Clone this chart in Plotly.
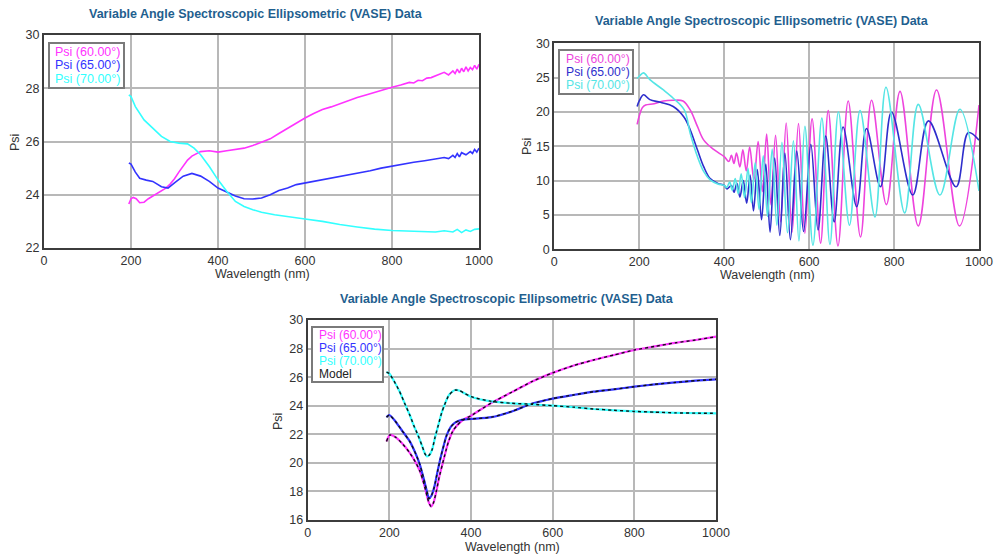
import plotly.graph_objects as go

W, H = 995, 556
FONT = "Liberation Sans, Arial, sans-serif"
TITLE = "Variable Angle Spectroscopic Ellipsometric (VASE) Data"

# ---- Panel A: thick-substrate sample, Psi vs wavelength ----
a_wl_60 = [195, 200, 205, 212, 220, 230, 240, 250, 260, 270, 280, 290, 300, 310, 320, 330, 340, 350,
           360, 380, 400, 420, 440, 460, 480, 500, 520, 540, 560, 580, 600, 620, 640, 660, 680, 700,
           720, 740, 760, 780, 800, 820, 840, 850, 860, 870, 880, 890, 900, 910, 920, 930, 940, 945,
           950, 955, 960, 965, 970, 975, 980, 985, 990, 995, 1000]
a_psi_60 = [23.65, 23.85, 23.9, 23.85, 23.7, 23.72, 23.85, 23.95, 24.05, 24.15, 24.25, 24.4, 24.6, 24.85,
            25.1, 25.3, 25.45, 25.55, 25.62, 25.65, 25.6, 25.65, 25.7, 25.75, 25.85, 25.97, 26.1, 26.3,
            26.5, 26.7, 26.88, 27.05, 27.2, 27.3, 27.42, 27.52, 27.65, 27.75, 27.85, 27.95, 28.04, 28.12,
            28.22, 28.2, 28.3, 28.28, 28.38, 28.4, 28.47, 28.52, 28.6, 28.5, 28.65, 28.55, 28.72, 28.58,
            28.75, 28.62, 28.8, 28.65, 28.78, 28.7, 28.86, 28.72, 28.9]
a_wl_65 = [195, 200, 210, 220, 235, 250, 270, 285, 300, 320, 340, 360, 380, 400, 420, 440, 460, 480,
           500, 520, 540, 560, 580, 600, 620, 640, 660, 680, 700, 725, 750, 775, 800, 825, 850, 875,
           900, 920, 930, 940, 945, 950, 955, 960, 970, 980, 985, 990, 995, 1000]
a_psi_65 = [25.19, 25.15, 24.85, 24.62, 24.55, 24.5, 24.3, 24.25, 24.45, 24.7, 24.8, 24.7, 24.5, 24.25,
            24.1, 23.95, 23.85, 23.84, 23.88, 24.0, 24.16, 24.25, 24.38, 24.44, 24.5, 24.56, 24.63, 24.68,
            24.75, 24.82, 24.9, 25.0, 25.08, 25.15, 25.22, 25.28, 25.34, 25.4, 25.36, 25.48, 25.4, 25.55,
            25.42, 25.58, 25.5, 25.62, 25.55, 25.7, 25.6, 25.75]
a_wl_70 = [195, 200, 210, 230, 250, 270, 290, 310, 330, 345, 360, 380, 400, 420, 440, 460, 480, 500,
           530, 560, 600, 640, 680, 720, 760, 800, 850, 900, 920, 940, 950, 960, 970, 980, 990, 1000]
a_psi_70 = [27.75, 27.69, 27.31, 26.81, 26.5, 26.19, 26.0, 25.94, 25.91, 25.75, 25.5, 25.06, 24.56,
            24.13, 23.75, 23.56, 23.44, 23.34, 23.25, 23.19, 23.09, 23.0, 22.88, 22.79, 22.71, 22.66,
            22.63, 22.6, 22.65, 22.6, 22.7, 22.58, 22.68, 22.62, 22.7, 22.72]

# ---- Panel B: thin-film sample with interference fringes ----
b_wl_60 = [195, 200, 207, 215, 235, 257, 280, 303, 320, 337, 352, 376, 400,
           411, 417, 423, 429, 437, 444, 452, 460, 470, 480, 490, 500, 510, 521, 533, 546,
           560, 575, 590, 607, 627, 645, 668, 692, 721, 747, 782, 814, 857, 900, 954, 1000]
b_psi_60 = [18.2, 19.4, 20.6, 21.0, 21.2, 21.6, 21.7, 21.6, 20.3, 17.9, 15.9, 14.5, 13.5,
            12.8, 13.7, 12.5, 14.0, 12.0, 14.5, 11.4, 14.9, 10.1, 15.7, 8.4, 16.8, 6.5, 16.6, 4.0, 18.4,
            2.5, 18.3, 2.3, 19.0, 0.9, 20.2, 0.5, 21.6, 1.8, 21.7, 6.5, 23.0, 3.4, 23.2, 3.4, 21.0]
b_wl_65 = [195, 200, 210, 225, 250, 280, 306, 320, 337, 352, 367, 385, 400,
           407, 417, 423, 430, 437, 445, 453, 461, 469, 478, 488, 498, 508, 519, 531, 543,
           556, 571, 587, 604, 621, 639, 659, 680, 712, 735, 768, 794, 844, 881, 946, 975, 1000]
b_psi_65 = [20.8, 21.6, 22.5, 21.8, 21.4, 20.8, 19.2, 17.4, 14.5, 12.0, 10.3, 9.6, 9.3,
            8.8, 9.3, 8.3, 9.6, 7.6, 10.0, 6.7, 10.8, 5.6, 11.6, 4.3, 12.4, 2.5, 13.3, 2.0, 14.0,
            1.4, 14.3, 2.6, 15.3, 2.8, 16.5, 4.0, 17.8, 6.2, 17.6, 9.1, 20.0, 7.9, 18.7, 9.1, 17.0, 15.9]
b_wl_70 = [195, 200, 210, 225, 257, 280, 306, 320, 337, 352, 367, 385, 400,
           406, 413, 419, 426, 433, 440, 448, 456, 464, 473, 482, 492, 502, 513, 524, 536,
           549, 563, 576, 590, 609, 630, 649, 669, 695, 720, 755, 781, 825, 857, 908, 955, 1000]
b_psi_70 = [24.9, 25.2, 25.7, 24.7, 23.2, 22.0, 20.3, 16.9, 13.5, 11.3, 10.1, 9.5, 9.3,
            9.0, 9.8, 8.6, 10.3, 8.1, 11.0, 7.5, 11.8, 6.8, 12.6, 5.8, 13.6, 4.8, 14.6, 3.5, 15.6,
            2.4, 15.8, 1.2, 17.9, 0.6, 19.1, 0.7, 20.0, 3.5, 20.2, 4.7, 23.6, 5.3, 21.1, 7.9, 20.4, 8.5]

# ---- Panel C: measured data with fitted model ----
c_wl_60 = [193, 201, 215, 230, 250, 265, 275, 285, 292, 297, 302, 308, 315, 322, 330, 338, 345, 355,
           365, 380, 400, 450, 500, 550, 600, 650, 700, 750, 800, 850, 900, 950, 1000]
c_psi_60 = [21.5, 21.95, 21.8, 21.4, 20.7, 20.0, 19.4, 18.5, 17.7, 17.2, 16.95, 17.2, 18.0, 19.0, 19.9,
            20.8, 21.5, 22.2, 22.6, 23.0, 23.3, 24.2, 24.95, 25.7, 26.3, 26.8, 27.2, 27.55, 27.9,
            28.15, 28.4, 28.6, 28.83]
c_wl_65 = [193, 200, 215, 230, 250, 265, 275, 285, 292, 297, 303, 310, 318, 325, 333, 340, 350, 360,
           375, 400, 450, 500, 550, 600, 650, 700, 750, 800, 850, 900, 950, 1000]
c_psi_65 = [23.2, 23.35, 22.9, 22.3, 21.5, 20.6, 19.85, 18.8, 18.0, 17.5, 17.7, 18.3, 19.4, 20.3, 21.2,
            21.9, 22.5, 22.8, 23.0, 23.07, 23.2, 23.6, 24.15, 24.5, 24.75, 24.98, 25.15, 25.33, 25.5,
            25.63, 25.75, 25.85]
c_wl_70 = [193, 200, 212, 225, 240, 250, 260, 270, 280, 287, 292, 298, 305, 312, 320, 328, 335, 345,
           355, 362, 372, 385, 400, 450, 500, 550, 600, 650, 700, 750, 800, 850, 900, 950, 1000]
c_psi_70 = [26.35, 26.25, 25.7, 25.0, 24.0, 23.35, 22.6, 21.95, 21.2, 20.65, 20.45, 20.55, 20.95, 21.8,
            22.65, 23.5, 24.05, 24.7, 25.0, 25.1, 25.05, 24.85, 24.63, 24.3, 24.17, 24.1, 24.0, 23.9,
            23.77, 23.68, 23.6, 23.55, 23.5, 23.48, 23.47]

series_names = ["Psi (60.00°)", "Psi (65.00°)", "Psi (70.00°)"]
colors_a = ["#ff33ff", "#3333ff", "#33ffff"]
colors_b = ["#ee44dd", "#2e2ecc", "#55e5e5"]
colors_c = ["#ff33ff", "#3333ff", "#33ffff"]


def px(x):
    return x / W


def py(y):
    return 1 - y / H


fig = go.Figure()

for wl, psi, col, name in zip([a_wl_60, a_wl_65, a_wl_70], [a_psi_60, a_psi_65, a_psi_70], colors_a, series_names):
    fig.add_trace(go.Scatter(x=wl, y=psi, mode="lines", name=name, line=dict(color=col, width=1.6),
                             xaxis="x", yaxis="y", showlegend=False))

for wl, psi, col, name in zip([b_wl_60, b_wl_65, b_wl_70], [b_psi_60, b_psi_65, b_psi_70], colors_b, series_names):
    fig.add_trace(go.Scatter(x=wl, y=psi, mode="lines", name=name,
                             line=dict(color=col, width=1.6, shape="spline", smoothing=1.0),
                             xaxis="x2", yaxis="y2", showlegend=False))

for wl, psi, col, name in zip([c_wl_60, c_wl_65, c_wl_70], [c_psi_60, c_psi_65, c_psi_70], colors_c, series_names):
    fig.add_trace(go.Scatter(x=wl, y=psi, mode="lines", name=name,
                             line=dict(color=col, width=2.2, shape="spline", smoothing=0.6),
                             xaxis="x3", yaxis="y3", showlegend=False))
for wl, psi in zip([c_wl_60, c_wl_65, c_wl_70], [c_psi_60, c_psi_65, c_psi_70]):
    fig.add_trace(go.Scatter(x=wl, y=psi, mode="lines", name="Model",
                             line=dict(color="#111111", width=1.4, dash="dot", shape="spline", smoothing=0.6),
                             xaxis="x3", yaxis="y3", showlegend=False))

# plot areas in pixels: (left, right, top, bottom)
panels = {
    "1": (44, 479, 35, 248),
    "2": (554.3, 979, 43.3, 249.3),
    "3": (307.7, 716, 320, 520),
}
yranges = {"1": ([22, 30], 2), "2": ([0, 30], 5), "3": ([16, 30], 2)}

axis_common = dict(showgrid=True, gridcolor="#b8b8b8", gridwidth=1.5, showline=True, mirror=True,
                   linecolor="#3c3c3c", linewidth=2, zeroline=False, ticks="", automargin=False,
                   tickfont=dict(family=FONT, size=12.5, color="#333333"))
layout = {}
for k, (l, r, t, b) in panels.items():
    sfx = "" if k == "1" else k
    layout["xaxis" + sfx] = dict(domain=[px(l), px(r)], range=[0, 1000], dtick=200,
                                 anchor="y" + sfx, **axis_common)
    yr, dt = yranges[k]
    layout["yaxis" + sfx] = dict(domain=[py(b), py(t)], range=yr, dtick=dt,
                                 anchor="x" + sfx, **axis_common)

annotations = []
shapes = []

# chart titles
for cx, cy in [(256, 14), (762, 21), (507, 299)]:
    annotations.append(dict(x=px(cx), y=py(cy), xref="paper", yref="paper", text="<b>" + TITLE + "</b>",
                            showarrow=False, xanchor="center", yanchor="middle",
                            font=dict(family=FONT, size=12.5, color="#1f5f8f")))

# axis titles
for cx, cy in [(262, 274), (767, 275), (512, 547)]:
    annotations.append(dict(x=px(cx), y=py(cy), xref="paper", yref="paper", text="Wavelength (nm)",
                            showarrow=False, xanchor="center", yanchor="middle",
                            font=dict(family=FONT, size=12.5, color="#333333")))
for cx, cy in [(15, 143), (527, 147), (278, 422)]:
    annotations.append(dict(x=px(cx), y=py(cy), xref="paper", yref="paper", text="Psi", textangle=-90,
                            showarrow=False, xanchor="center", yanchor="middle",
                            font=dict(family=FONT, size=12.5, color="#333333")))

# legend boxes
legends = [
    ((49, 124, 43, 88), 53, [51.7, 65.2, 78.8], colors_a, series_names, 12.5),
    ((559, 633, 50, 94), 564, [59.3, 71.9, 85.0], colors_b, series_names, 12.2),
    ((312, 383, 327, 382), 316.5, [335, 348, 361, 374.3], colors_c + ["#222222"], series_names + ["Model"], 12),
]
for (l, r, t, b), tx, ys, cols, names, fs in legends:
    shapes.append(dict(type="rect", xref="paper", yref="paper", x0=px(l), x1=px(r), y0=py(b), y1=py(t),
                       line=dict(color="#7a7a7a", width=2), fillcolor="white", layer="above"))
    for yy, col, nm in zip(ys, cols, names):
        annotations.append(dict(x=px(tx), y=py(yy), xref="paper", yref="paper", text=nm,
                                showarrow=False, xanchor="left", yanchor="middle",
                                font=dict(family=FONT, size=fs, color=col)))

fig.update_layout(width=W, height=H, margin=dict(l=0, r=0, t=0, b=0), paper_bgcolor="white",
                  plot_bgcolor="white", annotations=annotations, shapes=shapes, showlegend=False,
                  font=dict(family=FONT), **layout)

fig.write_html("out.html")
